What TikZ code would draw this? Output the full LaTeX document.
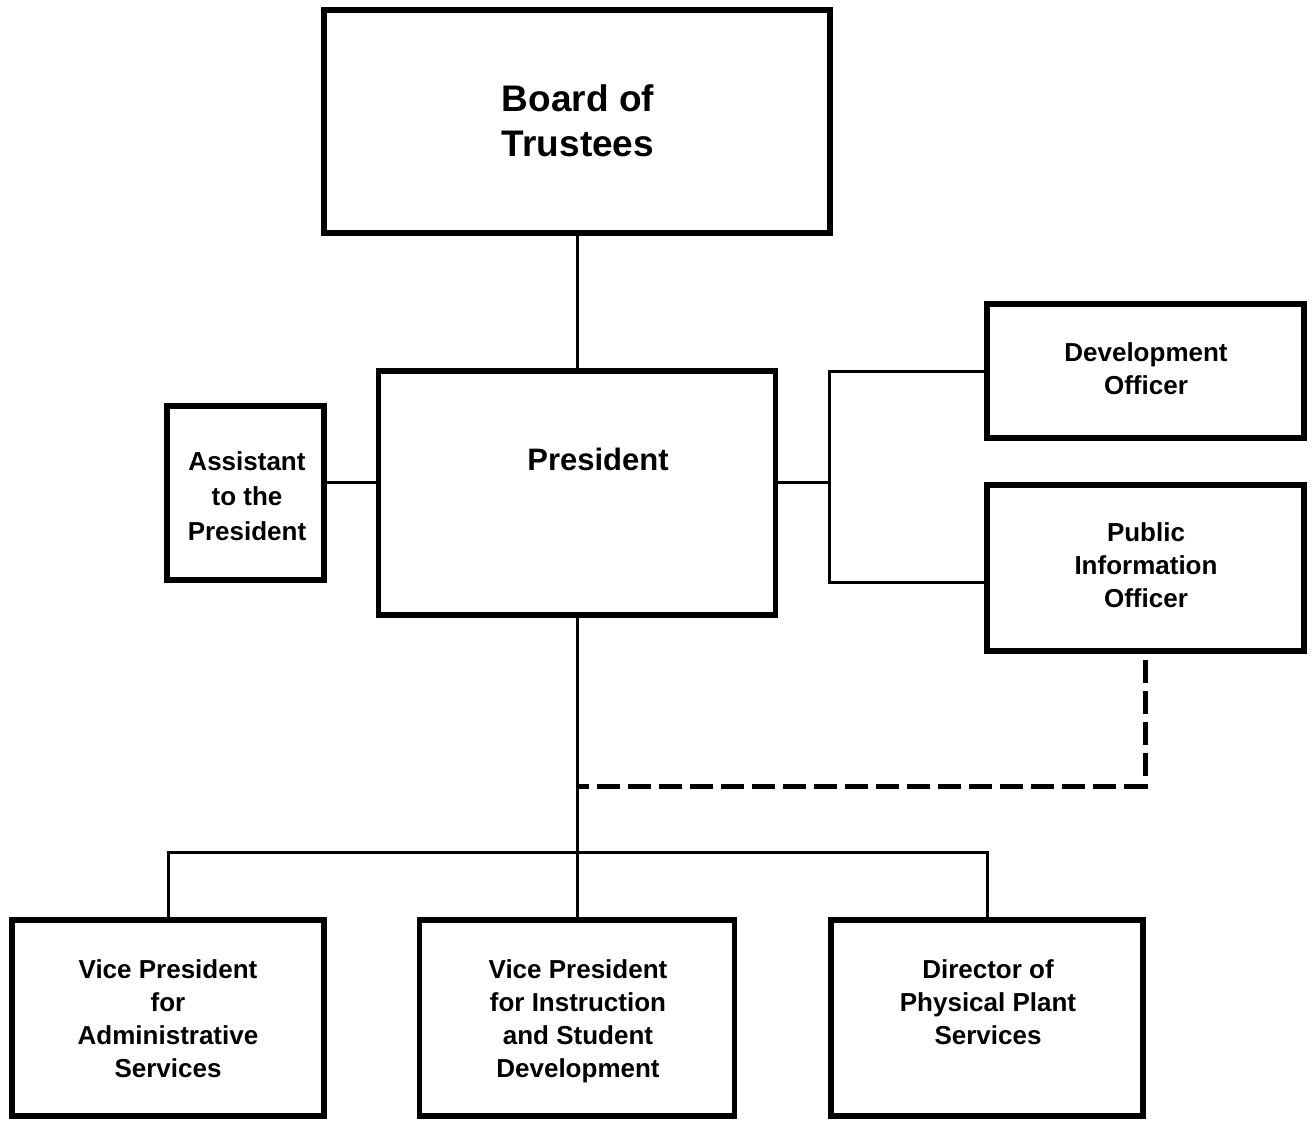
\documentclass[tikz,border=0pt]{standalone}
\usepackage{fontspec}
\setmainfont{Liberation Sans}
\begin{document}
\begin{tikzpicture}[x=1pt,y=-1pt,
  box/.style={draw, line width=5.5pt, rectangle, inner sep=0pt, outer sep=0pt},
  conn/.style={line width=3pt},
  dashline/.style={line width=5pt, dash pattern=on 23pt off 8pt},
  lbl/.style={align=center, inner sep=0pt, font=\fontsize{26}{33}\selectfont\bfseries},
  big/.style={align=center, inner sep=0pt, font=\fontsize{37}{45}\selectfont\bfseries},
  mid/.style={align=center, inner sep=0pt, font=\fontsize{31}{38}\selectfont\bfseries}]
\useasboundingbox (0,0) rectangle (1312,1120);
% boxes
\node[box, minimum width=506pt, minimum height=223pt] (board) at (577,121.5) {};
\node[box, minimum width=397pt, minimum height=244pt] (pres) at (577,493) {};
\node[box, minimum width=157pt, minimum height=174pt] (asst) at (245.5,493) {};
\node[box, minimum width=317pt, minimum height=134pt] (dev) at (1145.5,371) {};
\node[box, minimum width=317pt, minimum height=166pt] (pio) at (1145.5,568) {};
\node[box, minimum width=312pt, minimum height=196pt] (vpa) at (168,1018) {};
\node[box, minimum width=315pt, minimum height=196pt] (vpi) at (577,1018) {};
\node[box, minimum width=312pt, minimum height=196pt] (dir) at (987,1018) {};
% texts
\node[big] (tboard) at (578,121) {Board of\\Trustees};
\node[mid] (tpres) at (598,459) {President};
\node[lbl, font=\fontsize{26}{35}\selectfont\bfseries] (tasst) at (247,496) {Assistant\\to the\\President};
\node[lbl] (tdev) at (1146,369) {Development\\Officer};
\node[lbl] (tpio) at (1146,565) {Public\\Information\\Officer};
\node[lbl] (tvpa) at (168,1019) {Vice President\\for\\Administrative\\Services};
\node[lbl] (tvpi) at (578,1021) {Vice President\\for Instruction\\and Student\\Development};
\node[lbl] (tdir) at (988,1002) {Director of\\Physical Plant\\Services};
% helper coordinates
\coordinate (ya) at (0,482);
\coordinate (br) at (829,482);
\coordinate (yp) at (0,582);
\coordinate (hb) at (577,852);
\coordinate (ds) at (1145,660);
\coordinate (dj) at (577,786);
% connectors
\draw[conn] (board.south) -- (pres.north);
\draw[conn] (asst.east |- ya) -- (pres.west |- ya);
\draw[conn] (pres.east |- br) -- (br);
\draw[conn] (dev.west) -| (br) |- (pio.west |- yp);
\draw[conn] (pres.south) -- (vpi.north);
\draw[conn] (vpa.north) |- (hb) -| (dir.north);
\draw[dashline] (ds) |- (dj);
\end{tikzpicture}
\end{document}
